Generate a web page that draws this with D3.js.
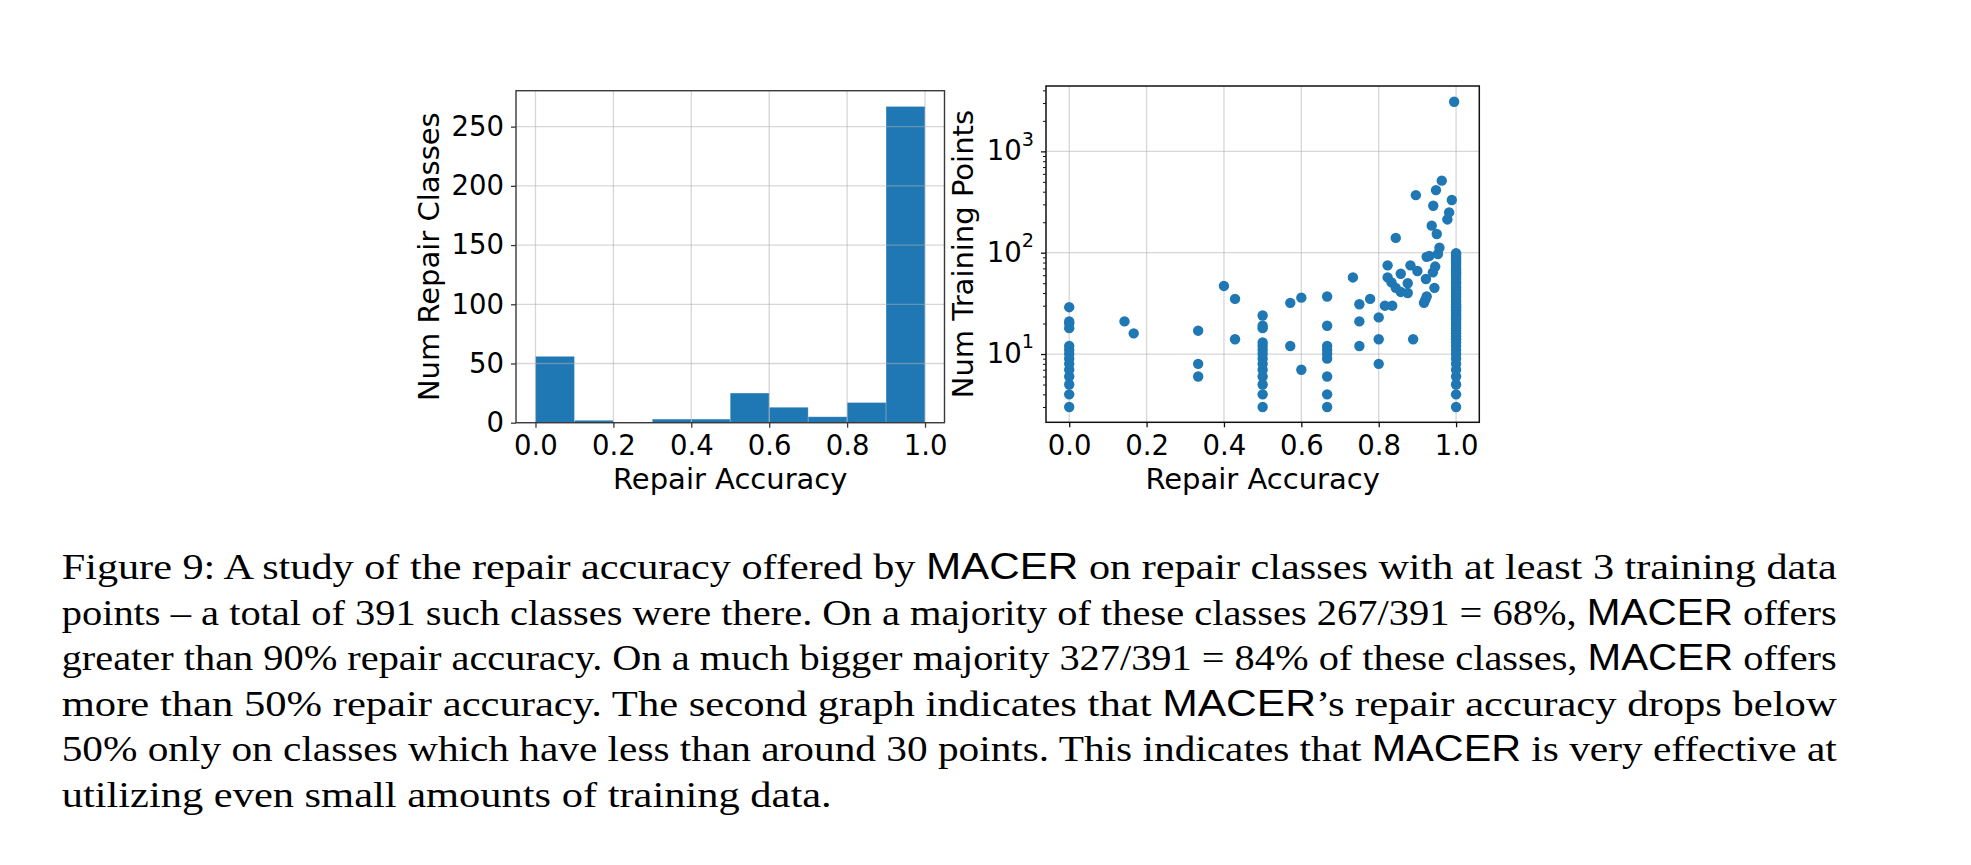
<!DOCTYPE html>
<html><head><meta charset="utf-8">
<script src="https://cdn.jsdelivr.net/npm/d3@7/dist/d3.min.js"></script>
<style>html,body{margin:0;padding:0;background:#fff;} svg{display:block;}</style>
</head><body>
<svg id="c" width="1971" height="865"></svg>
<script>
// ---------------- data ----------------
const binEdges = [0.0, 0.1, 0.2, 0.3, 0.4, 0.5, 0.6, 0.7, 0.8, 0.9, 1.0];
const binCounts = [56, 2, 0, 3, 3, 25, 13, 5, 17, 267];
const histXTicks = [0.0, 0.2, 0.4, 0.6, 0.8, 1.0];
const histYTicks = [0, 50, 100, 150, 200, 250];

const scatterAccuracy = [
  0,0,0,0,0,0,0,0,0,0,0,0,0,0,
  0.1429, 0.1667,
  0.3333,0.3333,0.3333,
  0.4, 0.4286,0.4286,
  0.5,0.5,0.5,0.5,0.5,0.5,0.5,0.5,0.5,0.5,0.5,0.5,0.5,0.5,
  0.5714,0.5714, 0.6,0.6,
  0.6667,0.6667,0.6667,0.6667,0.6667,0.6667,0.6667,0.6667,0.6667,
  0.7333, 0.75,0.75,0.75, 0.7778,
  0.8,0.8,0.8, 0.816, 0.823,0.823, 0.833, 0.835, 0.844,0.844, 0.857,0.857,
  0.875,0.875, 0.882, 0.889, 0.896, 0.900,
  0.917, 0.920, 0.924,0.924, 0.922, 0.931, 0.937, 0.940, 0.941, 0.944, 0.946,
  0.948, 0.950, 0.953, 0.957, 0.963, 0.9775, 0.982, 0.989, 0.995,
  1,1,1,1,1,1,1,1,1,1,1,1,1,1,1,1,1,1,1,1,1,1,1,1,1,1,1,1,
  1,1,1,1,1,1,1,1,1,1,1,1,1,1,1,1,1,1,1,1,1,1,1,1
];
const scatterTrainingPoints = [
  3,4,5,6,7,8,9,10,11,12,18,20,21,29,
  21, 16,
  17,8,6,
  47, 35,14,
  3,4,5,6,7,8,9,10,11,12,13,18,19,24,
  32,12, 36,7,
  3,4,6,9,10,11,12,19,37,
  57, 12,21,31, 35,
  8,14,23, 30, 57,75, 51, 30, 140,45, 62,41,
  50,40, 75, 14, 370, 66,
  32, 34, 37,91, 55, 93, 185, 64, 291, 45, 73,
  415, 153, 97, 112, 514, 213, 250, 331, 3090,
  3,4,5,6,7,8,9,10,11,12,13,14,15,16,17,18,19,20,21,22,23,24,25,26,27,28,29,30,
  31,33,35,37,39,41,43,45,47,50,52,55,58,61,64,67,70,74,78,82,86,90,95,99,120,174
];
const scatterXTicks = [0.0, 0.2, 0.4, 0.6, 0.8, 1.0];
const scatterYMajor = [10, 100, 1000];

const xLabelText = "Repair Accuracy";
const histYLabelText = "Num Repair Classes";
const scatterYLabelText = "Num Training Points";

const captionLines = [
  "Figure 9:  A study of the repair accuracy offered by MACER on repair classes with at least 3 training data",
  "points – a total of 391 such classes were there. On a majority of these classes 267/391 = 68%, MACER offers",
  "greater than 90% repair accuracy. On a much bigger majority 327/391 = 84% of these classes, MACER offers",
  "more than 50% repair accuracy.  The second graph indicates that MACER’s repair accuracy drops below",
  "50% only on classes which have less than around 30 points. This indicates that MACER is very effective at",
  "utilizing even small amounts of training data."
];

// ---------------- drawing ----------------
const svg = d3.select("#c");
svg.append("rect").attr("width",1971).attr("height",865).attr("fill","#fff");
const BLUE = "#1f77b4";
const FONT = "'DejaVu Sans', sans-serif";
const TICK_FS = 27.5, LABEL_FS = 29;
const GRID = "rgba(176,176,176,0.5)";

function styleAxis(g, color) {
  g.select(".domain").remove();
  g.selectAll(".tick line").attr("stroke", color).attr("stroke-width", 1.3);
  g.selectAll(".tick text").attr("font-family", FONT).attr("font-size", TICK_FS).attr("fill", "#000");
}

// ===== Histogram =====
const hx = d3.scaleLinear().domain([-0.05, 1.05]).range([516, 944.5]);
const hy = d3.scaleLinear().domain([0, d3.max(binCounts) * 1.05]).range([422.7, 90.7]);
const g1 = svg.append("g");
g1.selectAll("rect.bar").data(binCounts).join("rect").attr("class","bar")
  .attr("x", (d,i) => hx(binEdges[i]))
  .attr("width", (d,i) => hx(binEdges[i+1]) - hx(binEdges[i]))
  .attr("y", d => hy(d))
  .attr("height", d => hy(0) - hy(d))
  .attr("fill", BLUE)
  .attr("stroke", "rgba(255,255,255,0.25)").attr("stroke-width", 0.8);
// grid (drawn above bars)
g1.append("g").selectAll("line").data(histXTicks).join("line")
  .attr("x1", d => hx(d)).attr("x2", d => hx(d))
  .attr("y1", hy.range()[0]).attr("y2", hy.range()[1])
  .attr("stroke", GRID).attr("stroke-width", 1.3);
g1.append("g").selectAll("line").data(histYTicks).join("line")
  .attr("y1", d => hy(d)).attr("y2", d => hy(d))
  .attr("x1", hx.range()[0]).attr("x2", hx.range()[1])
  .attr("stroke", GRID).attr("stroke-width", 1.3);
g1.append("rect").attr("x", hx.range()[0]).attr("y", hy.range()[1])
  .attr("width", hx.range()[1]-hx.range()[0]).attr("height", hy.range()[0]-hy.range()[1])
  .attr("fill","none").attr("stroke","#3a3a3a").attr("stroke-width",1.4);
const hxa = g1.append("g").attr("transform", `translate(0,${hy.range()[0]})`)
  .call(d3.axisBottom(hx).tickValues(histXTicks).tickFormat(d3.format(".1f")).tickSize(5).tickPadding(7.8));
styleAxis(hxa, "#3a3a3a");
const hya = g1.append("g").attr("transform", `translate(${hx.range()[0]},0)`)
  .call(d3.axisLeft(hy).tickValues(histYTicks).tickSize(5).tickPadding(7));
styleAxis(hya, "#3a3a3a");
g1.append("text").attr("x", (hx.range()[0]+hx.range()[1])/2).attr("y", 489)
  .attr("text-anchor","middle").attr("font-family",FONT).attr("font-size",LABEL_FS).text(xLabelText);
g1.append("text").attr("transform", `translate(439,${(hy.range()[0]+hy.range()[1])/2}) rotate(-90)`)
  .attr("text-anchor","middle").attr("font-family",FONT).attr("font-size",LABEL_FS).text(histYLabelText);

// ===== Scatter =====
const sx = d3.scaleLinear().domain([-0.06, 1.06]).range([1046, 1479.3]);
const sy = d3.scaleLog().domain([2.12, 4418]).range([422.3, 86]);
const g2 = svg.append("g");
g2.append("g").selectAll("line").data(scatterXTicks).join("line")
  .attr("x1", d => sx(d)).attr("x2", d => sx(d))
  .attr("y1", sy.range()[0]).attr("y2", sy.range()[1])
  .attr("stroke", GRID).attr("stroke-width", 1.3);
g2.append("g").selectAll("line").data(scatterYMajor).join("line")
  .attr("y1", d => sy(d)).attr("y2", d => sy(d))
  .attr("x1", sx.range()[0]).attr("x2", sx.range()[1])
  .attr("stroke", GRID).attr("stroke-width", 1.3);
g2.append("g").selectAll("circle").data(scatterAccuracy).join("circle")
  .attr("cx", d => sx(d))
  .attr("cy", (d,i) => sy(scatterTrainingPoints[i]))
  .attr("r", 5.2).attr("fill", BLUE);
g2.append("rect").attr("x", sx.range()[0]).attr("y", sy.range()[1])
  .attr("width", sx.range()[1]-sx.range()[0]).attr("height", sy.range()[0]-sy.range()[1])
  .attr("fill","none").attr("stroke","#111").attr("stroke-width",1.5);
const sxa = g2.append("g").attr("transform", `translate(0,${sy.range()[0]})`)
  .call(d3.axisBottom(sx).tickValues(scatterXTicks).tickFormat(d3.format(".1f")).tickSize(5).tickPadding(7.8));
styleAxis(sxa, "#111");
const allLogTicks = sy.ticks();
const sya = g2.append("g").attr("transform", `translate(${sx.range()[0]},0)`)
  .call(d3.axisLeft(sy).tickValues(allLogTicks).tickFormat("").tickSize(5));
styleAxis(sya, "#111");
sya.selectAll(".tick line").attr("x2", d => scatterYMajor.includes(d) ? -5 : -3)
  .attr("stroke-width", d => scatterYMajor.includes(d) ? 1.3 : 1);
sya.selectAll(".tick text").remove();
scatterYMajor.forEach(v => {
  const t = sya.append("text").attr("x", -12).attr("y", sy(v)).attr("dy", "0.32em")
    .attr("text-anchor","end").attr("font-family",FONT).attr("font-size",TICK_FS).attr("fill","#000");
  t.append("tspan").text("10");
  t.append("tspan").attr("font-size", TICK_FS*0.7).attr("dy", "-0.75em").text(String(Math.round(Math.log10(v))));
});
g2.append("text").attr("x", (sx.range()[0]+sx.range()[1])/2).attr("y", 489)
  .attr("text-anchor","middle").attr("font-family",FONT).attr("font-size",LABEL_FS).text(xLabelText);
g2.append("text").attr("transform", `translate(973,${(sy.range()[0]+sy.range()[1])/2}) rotate(-90)`)
  .attr("text-anchor","middle").attr("font-family",FONT).attr("font-size",LABEL_FS).text(scatterYLabelText);

// ===== Caption =====
const capX = 61.7, capY0 = 579.3, capDy = 45.5;
captionLines.forEach((line, i) => {
  const t = svg.append("text").attr("x", capX).attr("y", capY0 + i*capDy)
    .attr("font-family", "'Liberation Serif', 'Times New Roman', serif").attr("font-size", 36)
    .attr("fill", "#000")
    .attr("textLength", i < captionLines.length - 1 ? 1775 : 770)
    .attr("lengthAdjust", "spacingAndGlyphs");
  const parts = line.split("MACER");
  parts.forEach((p, j) => {
    if (p.length) t.append("tspan").text(p);
    if (j < parts.length - 1) t.append("tspan").attr("font-family", "'Liberation Sans', sans-serif").text("MACER");
  });
});
</script>
</body></html>
